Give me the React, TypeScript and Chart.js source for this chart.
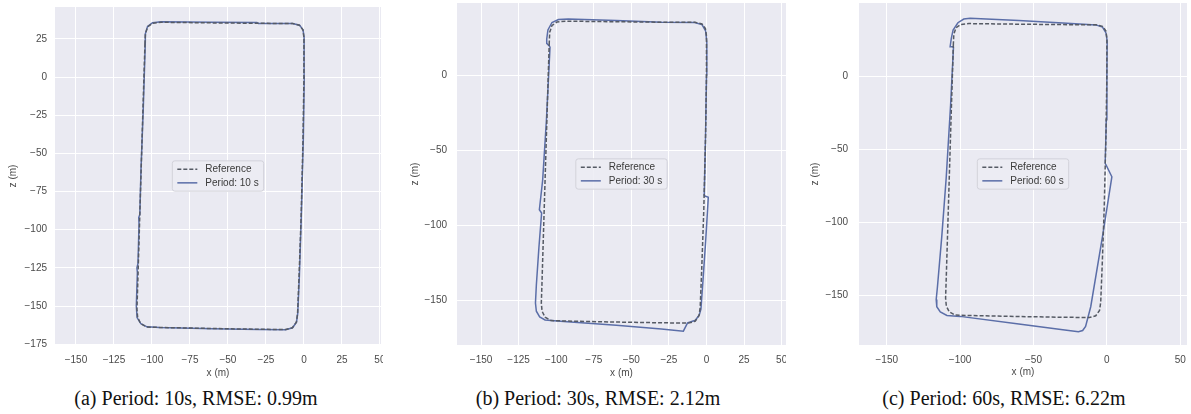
import React, { useEffect, useRef } from 'react';
import { Chart, registerables } from 'chart.js';

Chart.register(...registerables);
Chart.defaults.font.family = '"Liberation Sans", Arial, sans-serif';

// ---------- DATA ----------
// Reference trajectory (dashed), identical in all panels
const refX = [-104.6, -105.9, -107.1, -108.3, -109.5, -109.9, -109.4, -107.4, -103.5, -95, -60, -30, -12, -7.6, -5.0, -4.2, -3.2, -1.8, -0.6, 0, 0, -0.7, -3.0, -7.5, -30, -60, -94, -99.5, -102.8, -104.3, -104.6];
const refY = [22, -20, -60, -100, -140, -152, -157.5, -161.5, -163.7, -164, -164.7, -165.2, -165.4, -164.2, -160.5, -155, -130, -90, -40, 0, 26, 31, 34, 35.1, 35.2, 35.5, 35.9, 35.3, 33, 28.5, 22];

// Estimated trajectory, period 10 s
const estAX = [-104.4, -105.7, -107.2, -108.0, -108.7, -108.5, -109.2, -109.9, -109.6, -110.3, -109.8, -107.3, -103.3, -95, -60, -30, -12, -7.5, -4.9, -4.1, -3.0, -1.7, -0.4, 0.2, 0.1, -0.6, -2.9, -7.4, -30, -31, -60, -94, -99.6, -102.9, -104.3, -104.4];
const estAY = [22, -20, -60, -90, -92, -96, -122, -125, -128, -150, -157.5, -161.6, -163.6, -164, -164.8, -165.3, -165.5, -164.2, -160.5, -155, -130, -90, -40, 0, 26, 31, 34, 35.1, 35.1, 35.7, 35.9, 36.2, 35.6, 33.2, 28.5, 22];

// Estimated trajectory, period 30 s
const estBX = [-104.1, -106.5, -109, -111.2, -109.7, -111.5, -113.2, -113.8, -113.2, -111, -107.4, -95, -60, -30, -15.4, -12.6, -7.4, -4.8, -3.7, -2.2, -0.5, 1.2, -1.5, -0.6, 0, 0.2, -0.6, -3, -8, -30, -60, -92, -98.5, -102.8, -105.5, -106.3, -106.3, -104.1];
const estBY = [18.8, -30, -70, -89.8, -92, -115, -140, -152, -157.5, -161.3, -163.3, -164.4, -166.9, -169.4, -170.8, -165.2, -163.5, -160, -156, -135, -110, -81.5, -80.5, -40, 0, 22, 29.5, 33.6, 35, 35.2, 36.3, 37.3, 37, 35, 30, 24, 21.1, 18.8];

// Estimated trajectory, period 60 s
const estCX = [-104.5, -106.5, -109.5, -112.5, -115.5, -116.3, -115.9, -113.5, -109, -100, -60, -30, -19.4, -16.5, -14.5, -11, -3, 3.4, -1.1, -0.4, 0, 0.2, -0.6, -3, -7.5, -30, -60, -93.2, -97.5, -101.5, -104.8, -106, -106.8, -104.5];
const estCY = [20, -20, -70, -110, -145, -153, -158, -161.5, -164, -164.6, -169.8, -173.7, -175.1, -174.3, -171.5, -158, -110, -69, -59.8, -30, 0, 24, 29.5, 33.5, 35, 36.3, 38, 39.5, 39, 36.5, 31.5, 25.8, 20.1, 20];

const xTicksA = [-150, -125, -100, -75, -50, -25, 0, 25, 50];
const yTicksA = [-175, -150, -125, -100, -75, -50, -25, 0, 25];
const xTicksB = [-150, -125, -100, -75, -50, -25, 0, 25, 50];
const yTicksB = [-150, -100, -50, 0];
const xTicksC = [-150, -100, -50, 0, 50];
const yTicksC = [-150, -100, -50, 0];

const xRangeA = [-163.8, 50.7];
const yRangeA = [-175.5, 45.9];
const xRangeB = [-166, 52.9];
const yRangeB = [-180, 48];
const xRangeC = [-168.9, 54.6];
const yRangeC = [-184.2, 50];

const refLabel = 'Reference';
const estLabels = ['Period: 10 s', 'Period: 30 s', 'Period: 60 s'];
const captions = ['(a) Period: 10s, RMSE: 0.99m', '(b) Period: 30s, RMSE: 2.12m', '(c) Period: 60s, RMSE: 6.22m'];
const xTitle = 'x (m)';
const yTitle = 'z (m)';

// ---------- STYLE ----------
const REF_COLOR = '#555a64';
const EST_COLOR = '#5b6ea8';
const BG = '#EAEAF2';
const DASH = [4, 2];

const toPts = (xs: number[], ys: number[]) => xs.map((x, i) => ({ x, y: ys[i] }));
const fmt = (v: number) => String(v).replace('-', '\u2212');

const bgPlugin = {
  id: 'areaBg',
  beforeDraw(chart: any) {
    const { ctx, chartArea } = chart;
    ctx.save();
    ctx.fillStyle = BG;
    ctx.fillRect(chartArea.left, chartArea.top, chartArea.right - chartArea.left, chartArea.bottom - chartArea.top);
    ctx.restore();
  },
};

const legendPlugin = {
  id: 'centerLegend',
  afterDatasetsDraw(chart: any, _args: any, opts: any) {
    const items = opts.items as { text: string; color: string; dash: number[] }[];
    if (!items) return;
    const { ctx, chartArea } = chart;
    ctx.save();
    ctx.font = '10px "Liberation Sans", Arial, sans-serif';
    const textW = Math.max(...items.map((i) => ctx.measureText(i.text).width));
    const padX = 5, handle = 20, gap = 8, rowH = 13.7, padY = 8.3;
    const w = padX + handle + gap + textW + padX;
    const h = padY * 2 + rowH * (items.length - 1);
    const cx = (chartArea.left + chartArea.right) / 2;
    const cy = (chartArea.top + chartArea.bottom) / 2;
    const x0 = cx - w / 2, y0 = cy - h / 2;
    ctx.beginPath();
    ctx.roundRect(x0, y0, w, h, 2.5);
    ctx.fillStyle = 'rgba(236,236,243,0.85)';
    ctx.fill();
    ctx.strokeStyle = '#d2d2da';
    ctx.lineWidth = 1;
    ctx.stroke();
    items.forEach((it, i) => {
      const y = y0 + padY + i * rowH;
      ctx.beginPath();
      ctx.setLineDash(it.dash);
      ctx.strokeStyle = it.color;
      ctx.lineWidth = 1.5;
      ctx.moveTo(x0 + padX, y);
      ctx.lineTo(x0 + padX + handle, y);
      ctx.stroke();
      ctx.setLineDash([]);
      ctx.fillStyle = '#3a3a3a';
      ctx.textBaseline = 'middle';
      ctx.textAlign = 'left';
      ctx.fillText(it.text, x0 + padX + handle + gap, y);
    });
    ctx.restore();
  },
};

type PanelProps = {
  left: number; width: number; height: number;
  yAxisW: number; padTop: number; padRight: number; plotBottom: number;
  xRange: number[]; yRange: number[]; xTicks: number[]; yTicks: number[];
  estX: number[]; estY: number[]; estLabel: string;
  yTickPad: number; yTitlePad: number; xTitlePad: number;
};

function Panel(p: PanelProps) {
  const ref = useRef<HTMLCanvasElement>(null);
  useEffect(() => {
    if (!ref.current) return;
    const chart = new Chart(ref.current, {
      type: 'scatter',
      data: {
        datasets: [
          {
            label: refLabel,
            data: toPts(refX, refY),
            showLine: true,
            borderColor: REF_COLOR,
            borderWidth: 1.5,
            borderDash: DASH,
            pointRadius: 0,
            tension: 0,
          },
          {
            label: p.estLabel,
            data: toPts(p.estX, p.estY),
            showLine: true,
            borderColor: EST_COLOR,
            borderWidth: 1.5,
            pointRadius: 0,
            tension: 0,
          },
        ],
      },
      options: {
        responsive: false,
        animation: false,
        events: [],
        layout: { padding: { top: p.padTop, right: p.padRight, left: 0, bottom: 0 } },
        plugins: {
          legend: { display: false },
          tooltip: { enabled: false },
          centerLegend: {
            items: [
              { text: refLabel, color: REF_COLOR, dash: DASH },
              { text: p.estLabel, color: EST_COLOR, dash: [] },
            ],
          },
        } as any,
        scales: {
          x: {
            type: 'linear',
            min: p.xRange[0],
            max: p.xRange[1],
            afterBuildTicks: (s: any) => { s.ticks = p.xTicks.map((v) => ({ value: v })); },
            afterFit: (s: any) => { s.height = p.height - p.plotBottom; s.paddingLeft = 0; s.paddingRight = 0; },
            grid: { color: '#ffffff', lineWidth: 1, drawTicks: false },
            border: { display: false },
            ticks: { padding: 9, color: '#4a4a4a', font: { size: 10 }, callback: (v: any) => fmt(v), maxRotation: 0, autoSkip: false },
            title: { display: true, text: xTitle, color: '#4a4a4a', font: { size: 10 }, padding: { top: 0, bottom: p.xTitlePad } },
          },
          y: {
            type: 'linear',
            min: p.yRange[0],
            max: p.yRange[1],
            afterBuildTicks: (s: any) => { s.ticks = p.yTicks.map((v) => ({ value: v })); },
            afterFit: (s: any) => { s.width = p.yAxisW; s.paddingTop = 0; s.paddingBottom = 0; },
            grid: { color: '#ffffff', lineWidth: 1, drawTicks: false },
            border: { display: false },
            ticks: { padding: p.yTickPad, color: '#4a4a4a', font: { size: 10 }, callback: (v: any) => fmt(v), autoSkip: false },
            title: { display: true, text: yTitle, color: '#4a4a4a', font: { size: 10 }, padding: { top: p.yTitlePad, bottom: 0 } },
          },
        },
      },
      plugins: [bgPlugin, legendPlugin],
    });
    return () => chart.destroy();
  }, []);
  return (
    <canvas
      ref={ref}
      width={p.width}
      height={p.height}
      style={{ position: 'absolute', left: p.left, top: 0, width: p.width, height: p.height, display: 'block' }}
    />
  );
}

export default function App() {
  const capStyle = (cx: number): React.CSSProperties => ({
    position: 'absolute',
    left: cx - 200,
    width: 400,
    top: 386,
    lineHeight: '24px',
    textAlign: 'center',
    fontFamily: '"Liberation Serif", "Times New Roman", serif',
    fontSize: 20,
    color: '#111',
    whiteSpace: 'nowrap',
  });
  return (
    <div style={{ position: 'fixed', left: 0, top: 0, width: 1191, height: 414, background: '#fff', overflow: 'hidden' }}>
      <Panel left={0} width={383} height={386} yAxisW={55} padTop={7} padRight={2} plotBottom={345}
        xRange={xRangeA} yRange={yRangeA} xTicks={xTicksA} yTicks={yTicksA}
        estX={estAX} estY={estAY} estLabel={estLabels[0]} yTickPad={8} yTitlePad={7} xTitlePad={7} />
      <Panel left={395} width={391} height={386} yAxisW={62} padTop={3} padRight={0} plotBottom={345}
        xRange={xRangeB} yRange={yRangeB} xTicks={xTicksB} yTicks={yTicksB}
        estX={estBX} estY={estBY} estLabel={estLabels[1]} yTickPad={10} yTitlePad={14} xTitlePad={7} />
      <Panel left={790} width={401} height={386} yAxisW={69} padTop={3} padRight={4} plotBottom={345}
        xRange={xRangeC} yRange={yRangeC} xTicks={xTicksC} yTicks={yTicksC}
        estX={estCX} estY={estCY} estLabel={estLabels[2]} yTickPad={11} yTitlePad={19} xTitlePad={8} />
      <div style={capStyle(196)}>{captions[0]}</div>
      <div style={capStyle(598)}>{captions[1]}</div>
      <div style={capStyle(1004)}>{captions[2]}</div>
    </div>
  );
}
